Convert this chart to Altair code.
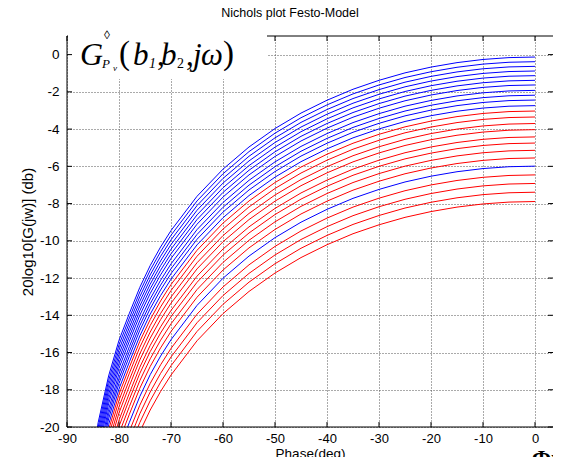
import altair as alt
import pandas as pd

# Phase grid (deg) and the shape of the top-family curve relative to its 0-deg level (dB)
phase_deg = [0, -5, -10, -15, -20, -25, -30, -35, -40, -45, -50, -55, -60, -65, -70,
             -72, -74, -76, -78, -80, -82, -84, -86]
shape_db = [0.0, -0.03, -0.13, -0.30, -0.54, -0.85, -1.25, -1.73, -2.32, -3.01, -3.84,
            -4.83, -6.02, -7.48, -9.32, -10.20, -11.20, -12.37, -13.76, -15.21, -17.13,
            -19.62, -23.13]
end_db = [-0.13, -0.38, -0.63, -0.88, -1.13, -1.38, -1.63, -1.92, -2.18, -2.44, -2.74,
          -3.03, -3.35, -3.70, -4.03, -4.42, -4.75, -5.14, -5.55,
          -5.99,
          -6.46, -6.92, -7.39, -7.89]
curve_colors = ["#0000ff"] * 11 + ["#ff0000"] * 8 + ["#0000ff"] + ["#ff0000"] * 4

x_ticks = [-90, -80, -70, -60, -50, -40, -30, -20, -10, 0]
y_ticks = [-20, -18, -16, -14, -12, -10, -8, -6, -4, -2, 0]

rows = []
for i, (e, c) in enumerate(zip(end_db, curve_colors)):
    for p, s in zip(phase_deg, shape_db):
        rows.append({"curve": i, "phase": p, "db": s + e, "color": c})
df = pd.DataFrame(rows)
xt = pd.DataFrame({"phase": x_ticks})
yt = pd.DataFrame({"db": y_ticks})
one = pd.DataFrame({"a": [0]})

W, H = 486, 391
xs = alt.Scale(domain=[-90, 3.46], nice=False, zero=False)
ys = alt.Scale(domain=[-20, 1], nice=False, zero=False)

axis_common = dict(grid=True, gridColor="#555555", gridDash=[1, 2], gridWidth=1,
                   ticks=False, domain=False, labelFont="Liberation Sans",
                   labelColor="black", labelFlush=False,
                   labelOverlap=False, labelBound=False,
                   labelExpr="'' + datum.value",
                   titleFont="Liberation Sans",
                   titleFontWeight="normal", titleColor="black")
xa = alt.Axis(values=x_ticks, title="Phase(deg)", labelPadding=5, titlePadding=1,
              labelFontSize=13, titleFontSize=13.5, **axis_common)
ya = alt.Axis(values=y_ticks, title="20log10[G(jw)]  (db)", labelPadding=8, titlePadding=4,
              labelFontSize=13.5, titleFontSize=15, **axis_common)
X = alt.X("phase:Q", scale=xs, axis=xa)
Y = alt.Y("db:Q", scale=ys, axis=ya)

lines = alt.Chart(df).mark_line(strokeWidth=1, clip=True).encode(
    x=X, y=Y,
    color=alt.Color("color:N", scale=None),
    detail="curve:N",
)


def rule(dfr, **enc):
    return alt.Chart(dfr).mark_rule(color="black", strokeWidth=1, clip=False).encode(**enc)


border_top = rule(one, x=alt.value(0), x2=alt.value(W), y=alt.value(0))
border_left = rule(one, x=alt.value(0), y=alt.value(0), y2=alt.value(H))
border_bottom = rule(one, x=alt.value(0), x2=alt.value(W), y=alt.value(H))

tick_top = rule(xt, x=X, y=alt.value(0), y2=alt.value(5))
tick_bottom = rule(xt, x=X, y=alt.value(H - 5), y2=alt.value(H))
tick_left = rule(yt, y=Y, x=alt.value(0), x2=alt.value(5))
tick_right = rule(yt, y=Y, x=alt.value(W - 5), x2=alt.value(W))

box = alt.Chart(one).mark_rect(color="white", clip=False).encode(
    x=alt.value(1), x2=alt.value(200), y=alt.value(-6), y2=alt.value(43))


def txt(s, x, y, size, italic=True, font="Liberation Serif", weight="normal",
        baseline="alphabetic"):
    return alt.Chart(one).mark_text(
        text=s, fontSize=size, font=font, fontStyle="italic" if italic else "normal",
        fontWeight=weight, align="left", baseline=baseline, color="black",
        clip=False).encode(x=alt.value(x), y=alt.value(y))


formula = [
    txt("G", 13, 29, 32),
    txt("\u25ca", 37, 3, 12, italic=False),
    txt("P", 35, 32, 13),
    txt("v", 46, 35, 9),
    txt("(", 52, 28, 33, italic=False),
    txt("b", 66, 29, 31),
    txt("1", 82, 32, 14),
    txt(",", 90, 29, 31, italic=False),
    txt("b", 94, 29, 31),
    txt("2", 110, 32, 14, italic=False),
    txt(",", 119, 29, 31, italic=False),
    txt("j", 126, 29, 31),
    txt("\u03c9", 134, 29, 31),
    txt(")", 156, 28, 33, italic=False),
]

stray = txt("\u0424\u0438\u0433", 465, 412, 22, italic=False, weight="bold", baseline="top")

chart = alt.layer(
    lines, border_top, border_left, tick_top, box, border_bottom,
    tick_bottom, tick_left, tick_right, *formula, stray
).properties(
    width=W, height=H,
    title=alt.TitleParams("Nichols plot Festo-Model", font="Liberation Sans", fontSize=12.5,
                          fontWeight="normal", color="black", anchor="middle", dx=-20,
                          offset=10),
    autosize=alt.AutoSizeParams(type="none"),
    padding={"left": 59, "top": 28, "right": 0, "bottom": 30},
).configure_view(strokeWidth=0)

chart.save("out.html", embed_options={"renderer": "svg", "actions": False})
